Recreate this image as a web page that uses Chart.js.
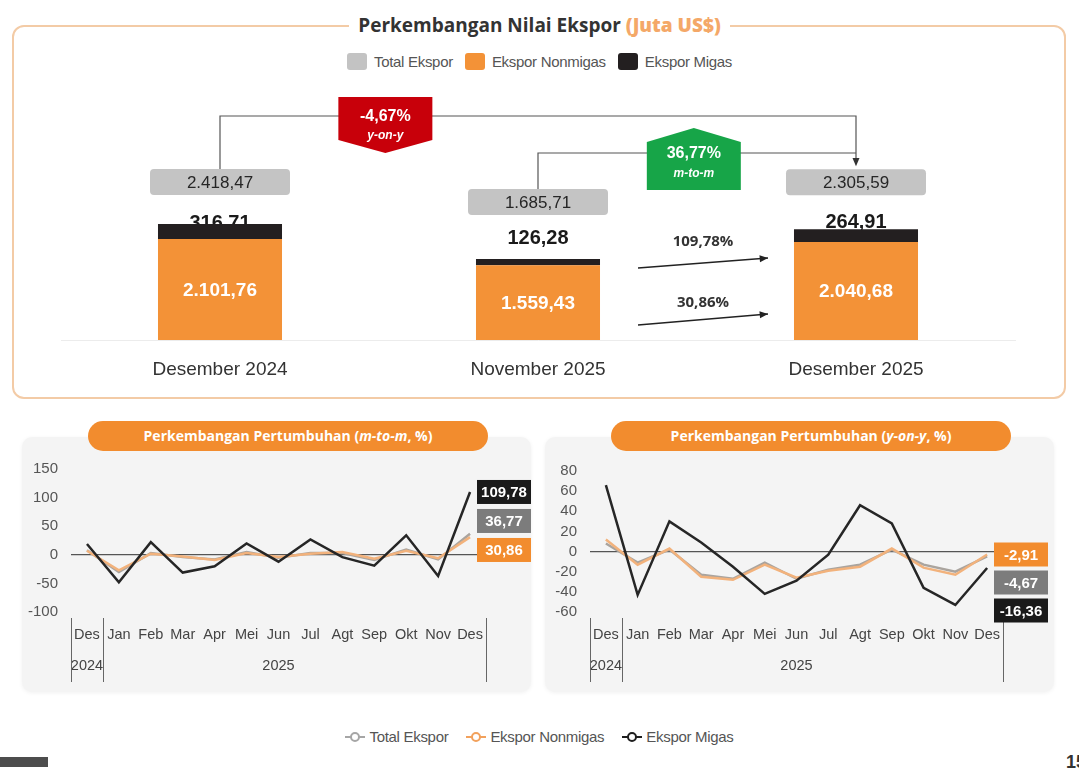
<!DOCTYPE html>
<html lang="id">
<head>
<meta charset="UTF-8">
<meta name="viewport" content="width=device-width, initial-scale=1.0">
<title>Perkembangan Nilai Ekspor</title>
<script src="https://cdn.jsdelivr.net/npm/chart.js"></script>
<style>
    html, body { margin: 0; padding: 0; }
    body {
        width: 1079px; height: 773px; overflow: hidden; position: relative; background: #fff;
        font-family: 'Liberation Sans', Arial, sans-serif;
    }
    .abs { position: absolute; }
    #topPanel {
        left: 12px; top: 25px; width: 1050px; height: 370px;
        border: 2px solid #f3cba6; border-radius: 12px;
    }
    #topTitle { left: 0; top: 10px; width: 1079px; text-align: center; line-height: 30px; }
    #topTitle span {
        background: #fff; padding: 0 9px;
        font-family: 'Open Sans', sans-serif; font-weight: 700; font-size: 19px; color: #333;
    }
    #topTitle span b { color: #f4a868; }
    .legend {
        left: 0; width: 1079px; display: flex; justify-content: center; align-items: center;
        font-family: 'Liberation Sans', Arial, sans-serif; font-size: 15px; color: #555; letter-spacing: -0.3px;
    }
    .legend .item { display: flex; align-items: center; margin: 0 6px; }
    .legend.lines .item { margin: 0 9px; }
    .legend .sq { width: 20px; height: 17px; border-radius: 3px; margin-right: 7px; }
    .legend .mk { position: relative; width: 20px; height: 10px; margin-right: 4px; }
    .legend .mk::before { content: ''; position: absolute; left: 0; right: 0; top: 4px; height: 2px; background: var(--c); }
    .legend .mk::after {
        content: ''; position: absolute; left: 5px; top: 0; width: 6px; height: 6px;
        border: 2px solid var(--c); border-radius: 50%; background: #fff;
    }
    .panel {
        top: 437px; width: 509px; height: 255px; background: #f4f4f4; border-radius: 10px;
        box-shadow: 0 1px 4px rgba(0,0,0,0.06);
    }
    .pill {
        top: 421px; width: 400px; height: 30px; line-height: 30px; border-radius: 15px;
        background: #f28c2e; color: #fff; text-align: center;
        font-family: 'Open Sans', sans-serif; font-weight: 700; font-size: 14px;
    }
    canvas { position: absolute; }
</style>
</head>
<body>
    <div id="topPanel" class="abs"></div>
    <div id="topTitle" class="abs"><span>Perkembangan Nilai Ekspor <b>(Juta US$)</b></span></div>
    <div class="abs legend" style="top:53px;">
        <div class="item"><div class="sq" style="background:#c3c3c3"></div>Total Ekspor</div>
        <div class="item"><div class="sq" style="background:#f39237"></div>Ekspor Nonmigas</div>
        <div class="item"><div class="sq" style="background:#231f20"></div>Ekspor Migas</div>
    </div>
    <canvas id="barChart" width="1079" height="300" style="left:0;top:90px;"></canvas>

    <div class="abs panel" style="left:22px;"></div>
    <div class="abs panel" style="left:545px;"></div>
    <div class="abs pill" style="left:88px;">Perkembangan Pertumbuhan (<i>m-to-m</i>, %)</div>
    <div class="abs pill" style="left:611px;">Perkembangan Pertumbuhan (<i>y-on-y</i>, %)</div>
    <canvas id="mtmChart" width="510" height="243" style="left:22px;top:447px;"></canvas>
    <canvas id="yoyChart" width="509" height="241" style="left:545px;top:449px;"></canvas>

    <div class="abs legend lines" style="top:728px;">
        <div class="item"><div class="mk" style="--c:#a6a6a6"></div>Total Ekspor</div>
        <div class="item"><div class="mk" style="--c:#f2a15c"></div>Ekspor Nonmigas</div>
        <div class="item"><div class="mk" style="--c:#1f1f1f"></div>Ekspor Migas</div>
    </div>
    <div class="abs" style="left:0;top:757px;width:48px;height:10px;background:#4d4d4d;"></div>
    <div class="abs" style="left:1066px;top:752px;font-weight:700;font-size:18px;color:#333;">15</div>

<script>
    // nilai ekspor (juta US$)
    const periods = ['Desember 2024', 'November 2025', 'Desember 2025'];
    const nonmigasValues = [2101.76, 1559.43, 2040.68];
    const migasValues = [316.71, 126.28, 264.91];
    const totalValues = [2418.47, 1685.71, 2305.59];
    const yoyTotal = -4.67;
    const mtmTotal = 36.77;
    const mtmMigas = 109.78;
    const mtmNonmigas = 30.86;

    // pertumbuhan bulanan
    const months = [['Des', '2024'], ['Jan', ''], ['Feb', ''], ['Mar', ''], ['Apr', ''], ['Mei', ''], ['Jun', '2025'],
                    ['Jul', ''], ['Agt', ''], ['Sep', ''], ['Okt', ''], ['Nov', ''], ['Des', '']];
    const mtmTotalSeries    = [8, -30, 3, -4, -8, 5, -5, 3, 3, -9, 9, -8, 36.77];
    const mtmNonmigasSeries = [7, -27, 2, -3, -9, 3, -4, 2, 5, -7, 7, -6, 30.86];
    const mtmMigasSeries    = [19, -48, 22, -31, -20, 20, -12, 27, -4, -19, 34, -37, 109.78];
    const yoyTotalSeries    = [8, -11, 2, -23, -27, -11, -27, -18, -13, 2, -13, -20, -4.67];
    const yoyNonmigasSeries = [12, -13, 3, -25, -28, -13, -26, -19, -15, 3, -16, -23, -2.91];
    const yoyMigasSeries    = [66, -43, 30, 9, -15, -42, -29, -3, 46, 28, -36, -53, -16.36];

    const mtmTicks = { min: -100, max: 150, step: 50 };
    const yoyTicks = { min: -60, max: 80, step: 20 };

    // letak label (piksel di atas batang)
    const totalBoxLift = [42, 57, 47];
    const migasLabelLift = [-5, 15, 1];

    const SANS = "'Liberation Sans', Arial, sans-serif";

    function fmt(v) {
        const parts = v.toFixed(2).split('.');
        return parts[0].replace(/\B(?=(\d{3})+(?!\d))/g, '.') + ',' + parts[1];
    }

    function arrowHead(ctx, x1, y1, x2, y2, size) {
        const a = Math.atan2(y2 - y1, x2 - x1);
        ctx.beginPath();
        ctx.moveTo(x2, y2);
        ctx.lineTo(x2 - size * Math.cos(a - 0.4), y2 - size * Math.sin(a - 0.4));
        ctx.lineTo(x2 - size * Math.cos(a + 0.4), y2 - size * Math.sin(a + 0.4));
        ctx.closePath();
        ctx.fill();
    }

    const barDecor = {
        id: 'barDecor',
        beforeDatasetsDraw(chart) {
            // angka migas, sebagian tertutup batang
            const ctx = chart.ctx;
            const mg = chart.getDatasetMeta(1).data;
            ctx.save();
            ctx.font = 'bold 20px ' + SANS;
            ctx.fillStyle = '#1a1a1a';
            ctx.textAlign = 'center';
            ctx.textBaseline = 'alphabetic';
            mg.forEach((b, i) => ctx.fillText(fmt(migasValues[i]), b.x, b.y - migasLabelLift[i]));
            ctx.restore();
        },
        afterDatasetsDraw(chart) {
            const ctx = chart.ctx;
            const area = chart.chartArea;
            const nm = chart.getDatasetMeta(0).data;
            const mg = chart.getDatasetMeta(1).data;
            ctx.save();

            // angka nonmigas di dalam batang
            ctx.font = 'bold 19px ' + SANS;
            ctx.fillStyle = '#fff';
            ctx.textAlign = 'center';
            ctx.textBaseline = 'middle';
            nm.forEach((b, i) => ctx.fillText(fmt(nonmigasValues[i]), b.x, (b.y + b.base) / 2 + 1));

            // kotak total ekspor
            const boxY = mg.map((b, i) => b.y - totalBoxLift[i]);
            mg.forEach((b, i) => {
                ctx.fillStyle = '#c4c4c4';
                ctx.beginPath();
                ctx.roundRect(b.x - 70, boxY[i] - 13, 140, 26, 4);
                ctx.fill();
                ctx.fillStyle = '#262626';
                ctx.font = '17px ' + SANS;
                ctx.fillText(fmt(totalValues[i]), b.x, boxY[i] + 1);
            });

            // garis penghubung
            const yoyY = area.top + 16;
            const mtmY = area.top + 53;
            ctx.strokeStyle = '#555';
            ctx.fillStyle = '#333';
            ctx.lineWidth = 1.2;
            ctx.beginPath();
            ctx.moveTo(nm[0].x, boxY[0] - 13);
            ctx.lineTo(nm[0].x, yoyY);
            ctx.lineTo(nm[2].x, yoyY);
            ctx.lineTo(nm[2].x, boxY[2] - 18);
            ctx.moveTo(nm[1].x, boxY[1] - 13);
            ctx.lineTo(nm[1].x, mtmY);
            ctx.lineTo(nm[2].x, mtmY);
            ctx.stroke();
            arrowHead(ctx, nm[2].x, yoyY, nm[2].x, boxY[2] - 16, 9);

            // lencana y-on-y (merah)
            const rx = nm[0].x + 0.52 * (nm[1].x - nm[0].x);
            const rt = area.top - 3;
            ctx.fillStyle = '#c8000a';
            ctx.beginPath();
            ctx.moveTo(rx - 47, rt);
            ctx.lineTo(rx + 47, rt);
            ctx.lineTo(rx + 47, rt + 43);
            ctx.lineTo(rx, rt + 56);
            ctx.lineTo(rx - 47, rt + 43);
            ctx.closePath();
            ctx.fill();
            ctx.fillStyle = '#fff';
            ctx.font = 'bold 16px ' + SANS;
            ctx.fillText(fmt(yoyTotal) + '%', rx, rt + 20);
            ctx.font = 'italic bold 12px ' + SANS;
            ctx.fillText('y-on-y', rx, rt + 39);

            // lencana m-to-m (hijau)
            const gx = nm[1].x + 0.49 * (nm[2].x - nm[1].x);
            const gt = area.top + 28;
            ctx.fillStyle = '#17a548';
            ctx.beginPath();
            ctx.moveTo(gx, gt);
            ctx.lineTo(gx + 47, gt + 14);
            ctx.lineTo(gx + 47, gt + 62);
            ctx.lineTo(gx - 47, gt + 62);
            ctx.lineTo(gx - 47, gt + 14);
            ctx.closePath();
            ctx.fill();
            ctx.fillStyle = '#fff';
            ctx.font = 'bold 16px ' + SANS;
            ctx.fillText(fmt(mtmTotal) + '%', gx, gt + 26);
            ctx.font = 'italic bold 12px ' + SANS;
            ctx.fillText('m-to-m', gx, gt + 46);

            // panah pertumbuhan migas & nonmigas
            const ax1 = nm[1].x + 100, ax2 = nm[2].x - 88;
            const b = area.bottom;
            const arrows = [
                { text: fmt(mtmMigas) + '%', y1: b - 72, y2: b - 82, ty: b - 98 },
                { text: fmt(mtmNonmigas) + '%', y1: b - 15, y2: b - 26, ty: b - 37 }
            ];
            ctx.strokeStyle = '#222';
            ctx.lineWidth = 1.5;
            arrows.forEach(a => {
                ctx.fillStyle = '#222';
                ctx.beginPath();
                ctx.moveTo(ax1, a.y1);
                ctx.lineTo(ax2, a.y2);
                ctx.stroke();
                arrowHead(ctx, ax1, a.y1, ax2, a.y2, 9);
                ctx.fillStyle = '#333';
                ctx.font = "bold 15px 'Open Sans', sans-serif";
                ctx.fillText(a.text, (ax1 + ax2) / 2, a.ty);
            });
            ctx.restore();
        }
    };

    new Chart(document.getElementById('barChart'), {
        type: 'bar',
        data: {
            labels: periods,
            datasets: [
                { label: 'Ekspor Nonmigas', data: nonmigasValues, backgroundColor: '#f39237' },
                { label: 'Ekspor Migas', data: migasValues, backgroundColor: '#231f20' }
            ]
        },
        options: {
            responsive: false,
            animation: false,
            layout: { padding: { left: 61, right: 64, top: 10, bottom: 0 } },
            datasets: { bar: { categoryPercentage: 0.39, barPercentage: 1 } },
            scales: {
                x: {
                    stacked: true,
                    grid: { display: false, drawTicks: false },
                    border: { color: '#ececec' },
                    ticks: { font: { family: SANS, size: 19 }, color: '#333', padding: 18 },
                    afterFit(s) { s.height = 50; }
                },
                y: { stacked: true, display: false, min: 0, max: 5000 }
            },
            plugins: { legend: { display: false }, tooltip: { enabled: false } }
        },
        plugins: [barDecor]
    });

    // label ujung garis, digeser agar tidak bertumpuk
    function spread(items, gap, mode) {
        items.sort((a, b) => a.y - b.y);
        if (mode === 'down') {
            for (let i = 1; i < items.length; i++) items[i].y = Math.max(items[i].y, items[i - 1].y + gap);
        } else {
            for (let k = 0; k < 30; k++) {
                for (let i = 0; i < items.length - 1; i++) {
                    const d = gap - (items[i + 1].y - items[i].y);
                    if (d > 0) { items[i].y -= d / 2; items[i + 1].y += d / 2; }
                }
            }
        }
        return items;
    }

    function lineDecor(mode, gap) {
        return {
            id: 'lineDecor',
            afterDraw(chart) {
                const ctx = chart.ctx;
                const area = chart.chartArea;
                const xs = chart.scales.x;
                ctx.save();
                // pemisah tahun
                ctx.strokeStyle = '#666';
                ctx.lineWidth = 1;
                const sepX = [area.left, (xs.getPixelForValue(0) + xs.getPixelForValue(1)) / 2, area.right];
                sepX.forEach(x => {
                    ctx.beginPath();
                    ctx.moveTo(Math.round(x) + 0.5, area.bottom + 6);
                    ctx.lineTo(Math.round(x) + 0.5, area.bottom + 70);
                    ctx.stroke();
                });
                // kotak nilai terakhir
                const items = chart.data.datasets.map((ds, i) => {
                    const pts = chart.getDatasetMeta(i).data;
                    const last = pts[pts.length - 1];
                    return { y: last.y, v: ds.data[ds.data.length - 1], bg: ds.tagColor };
                });
                spread(items, gap, mode);
                ctx.font = 'bold 15px ' + SANS;
                ctx.textAlign = 'center';
                ctx.textBaseline = 'middle';
                items.forEach(it => {
                    ctx.fillStyle = it.bg;
                    ctx.fillRect(area.right - 9, it.y - 12, 54, 24);
                    ctx.fillStyle = '#fff';
                    ctx.fillText(fmt(it.v), area.right - 9 + 27, it.y + 1);
                });
                ctx.restore();
            }
        };
    }

    function makeLineChart(id, total, nonmigas, migas, t, yWidth, pad, mode, gap) {
        return new Chart(document.getElementById(id), {
            type: 'line',
            data: {
                labels: months,
                datasets: [
                    { label: 'Total Ekspor', data: total, borderColor: '#aaa49e', tagColor: '#7c7c7c', order: 2 },
                    { label: 'Ekspor Nonmigas', data: nonmigas, borderColor: '#f2b27c', tagColor: '#f28c2e', order: 1 },
                    { label: 'Ekspor Migas', data: migas, borderColor: '#262626', tagColor: '#1a1a1a', order: 0 }
                ]
            },
            options: {
                responsive: false,
                animation: false,
                layout: { padding: pad },
                elements: {
                    line: { borderWidth: 2.5, tension: 0 },
                    point: { radius: 0 }
                },
                scales: {
                    x: {
                        offset: true,
                        grid: { display: false, drawTicks: false },
                        border: { display: false },
                        ticks: {
                            autoSkip: false, maxRotation: 0, padding: 7, color: '#444',
                            font: { family: SANS, size: 14.5, lineHeight: 2.14 }
                        },
                        afterFit(s) { s.height = 78; }
                    },
                    y: {
                        min: t.min, max: t.max,
                        border: { display: false },
                        grid: {
                            drawTicks: false, lineWidth: 1.2,
                            color: c => c.tick.value === 0 ? '#555' : 'rgba(0,0,0,0)'
                        },
                        ticks: {
                            stepSize: t.step, autoSkip: false, padding: 13, color: '#555',
                            font: { family: SANS, size: 15 }
                        },
                        afterFit(s) { s.width = yWidth; }
                    }
                },
                plugins: { legend: { display: false }, tooltip: { enabled: false } }
            },
            plugins: [lineDecor(mode, gap)]
        });
    }

    makeLineChart('mtmChart', mtmTotalSeries, mtmNonmigasSeries, mtmMigasSeries, mtmTicks, 49,
                  { left: 0, right: 46, top: 0, bottom: 0 }, 'center', 29);
    makeLineChart('yoyChart', yoyTotalSeries, yoyNonmigasSeries, yoyMigasSeries, yoyTicks, 45,
                  { left: 0, right: 51, top: 0, bottom: 0 }, 'down', 28);
</script>
</body>
</html>
